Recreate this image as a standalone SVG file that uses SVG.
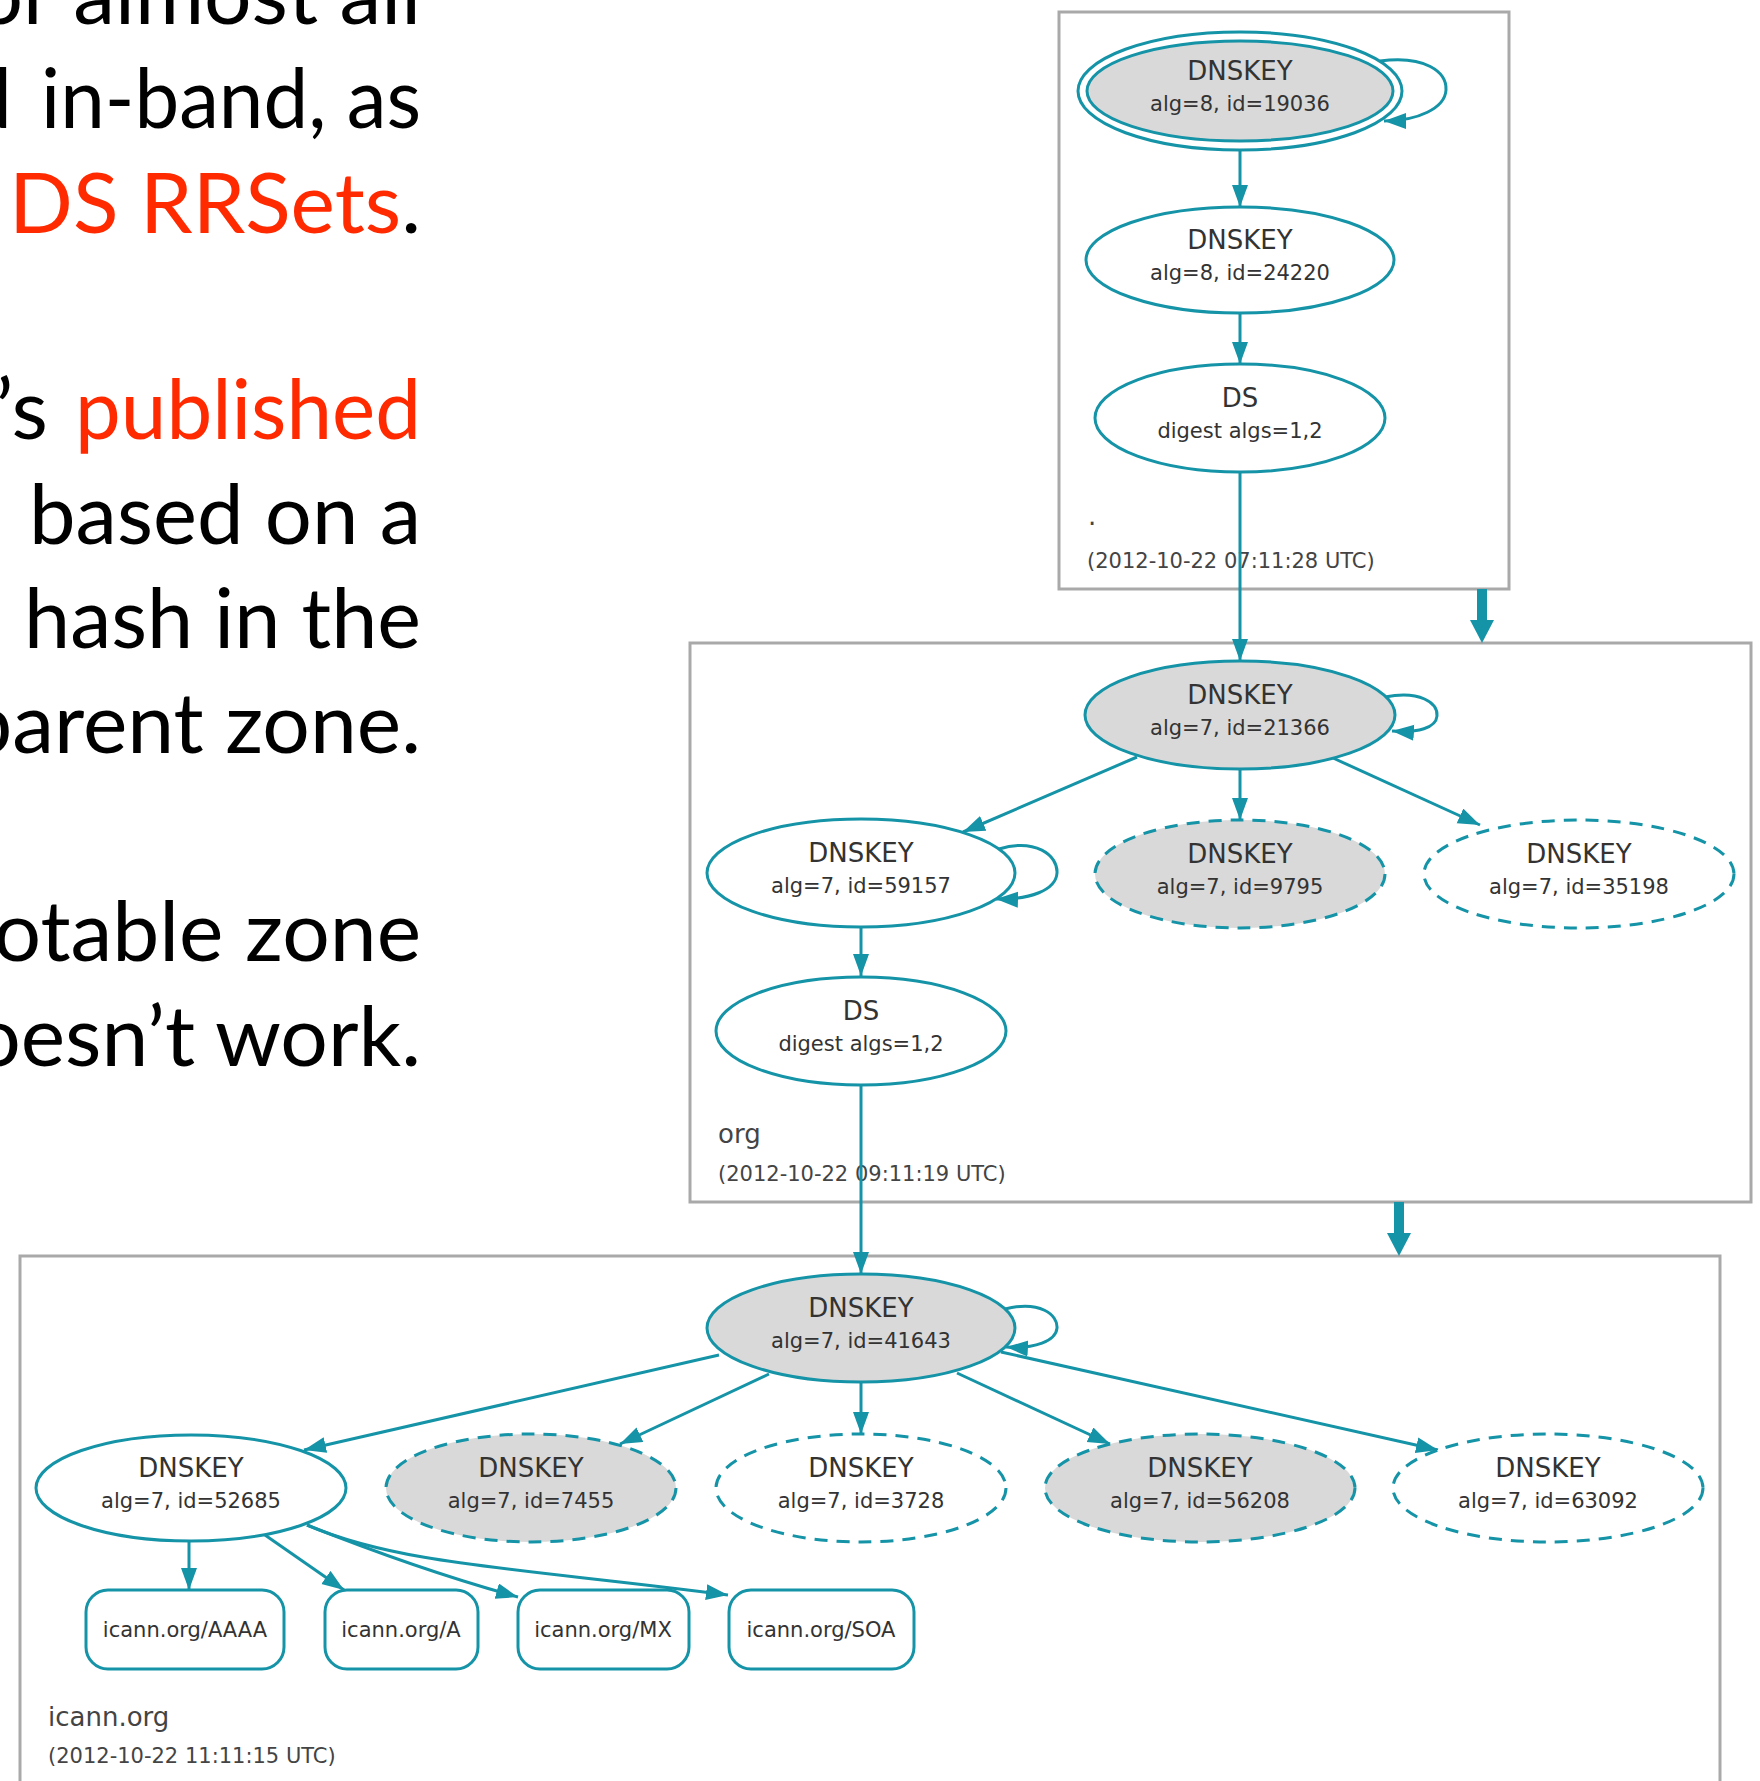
<svg xmlns="http://www.w3.org/2000/svg" width="1760" height="1781" viewBox="0 0 1760 1781">
<style>
.bt{font-family:"Lato","Liberation Sans",sans-serif;font-size:84px;fill:#000;text-anchor:end}
.red{fill:#ff2a00}
.zone{fill:none;stroke:#a9a9a9;stroke-width:3}
.n{fill:#fff;stroke:#1593a7;stroke-width:3}
.g{fill:#d9d9d9}
.d{stroke-dasharray:13 9}
.t1{font-family:"DejaVu Sans",sans-serif;font-size:26px;fill:#333;text-anchor:middle}
.t2{font-family:"DejaVu Sans",sans-serif;font-size:21px;fill:#333;text-anchor:middle}
.zl{font-family:"DejaVu Sans",sans-serif;font-size:26px;fill:#444}
.zd{font-family:"DejaVu Sans",sans-serif;font-size:21px;fill:#444}
.e{fill:none;stroke:#1593a7;stroke-width:3;marker-end:url(#ah)}
.thick{fill:none;stroke:#1593a7;stroke-width:10}
.th{fill:#1593a7}
</style>
<defs>
<marker id="ah" markerUnits="userSpaceOnUse" markerWidth="24" markerHeight="18" refX="22" refY="8" orient="auto">
<path d="M0,0 L22,8 L0,16 z" fill="#1593a7"/>
</marker>
</defs>
<rect width="1760" height="1781" fill="#fff"/>
<g id="bullet-text">
<text class="bt" x="421" y="24">or almost all</text>
<text class="bt" x="12" y="128">d</text>
<text class="bt" x="421" y="128" textLength="380" lengthAdjust="spacingAndGlyphs">in-band, as</text>
<text class="bt" x="421" y="233"><tspan class="red">DS RRSets</tspan>.</text>
<text class="bt" x="48" y="439">’s</text>
<text class="bt red" x="421" y="439" textLength="346" lengthAdjust="spacingAndGlyphs">published</text>
<text class="bt" x="421" y="544" textLength="392" lengthAdjust="spacingAndGlyphs">based on a</text>
<text class="bt" x="421" y="648" textLength="397" lengthAdjust="spacingAndGlyphs">hash in the</text>
<text class="bt" x="421" y="753">parent zone.</text>
<text class="bt" x="421" y="961">otable zone</text>
<text class="bt" x="421" y="1066">oesn’t work.</text>
</g>
<g id="zone-root">
<rect class="zone" x="1059" y="12" width="450" height="577"/>
<text class="zl" x="1088" y="525">.</text>
<text class="zd" x="1087" y="568">(2012-10-22 07:11:28 UTC)</text>
</g>
<g id="zone-org">
<rect class="zone" x="690" y="643" width="1061" height="559"/>
<text class="zl" x="718" y="1143">org</text>
<text class="zd" x="718" y="1181">(2012-10-22 09:11:19 UTC)</text>
</g>
<g id="zone-icann">
<rect class="zone" x="20" y="1256" width="1700" height="560"/>
<text class="zl" x="48" y="1726">icann.org</text>
<text class="zd" x="48" y="1763">(2012-10-22 11:11:15 UTC)</text>
</g>
<g id="connectors">
<path class="e" d="M1380,61 C1425,55 1447,72 1446,90 C1445,108 1418,121 1384,121"/>
<path class="e" d="M1240,150 L1240,207"/>
<path class="e" d="M1240,313 L1240,364"/>
<path class="e" d="M1240,472 L1240,661"/>
<path class="e" d="M1385,697 C1420,690 1438,703 1437,716 C1436,728 1418,733 1392,731"/>
<path class="e" d="M1137,757 L963,832"/>
<path class="e" d="M1240,769 L1240,820"/>
<path class="e" d="M1333,758 L1480,825"/>
<path class="e" d="M999,849 C1035,838 1058,855 1057,873 C1056,890 1030,900 996,899"/>
<path class="e" d="M861,928 L861,976"/>
<path class="e" d="M861,1086 L861,1274"/>
<path class="e" d="M1005,1309 C1040,1300 1058,1315 1057,1328 C1056,1341 1035,1349 1006,1347"/>
<path class="e" d="M719,1355 L304,1450"/>
<path class="e" d="M769,1374 L620,1444"/>
<path class="e" d="M861,1382 L861,1434"/>
<path class="e" d="M957,1373 L1110,1444"/>
<path class="e" d="M1001,1352 L1438,1450"/>
<path class="e" d="M189,1541 L189,1590"/>
<path class="e" d="M265,1535 L344,1590"/>
<path class="e" d="M307,1525 Q420,1570 518,1597"/>
<path class="e" d="M307,1525 C400,1565 520,1568 728,1595"/>
<path class="thick" d="M1482,589 L1482,622"/>
<polygon class="th" points="1470,620 1494,620 1482,643"/>
<path class="thick" d="M1399,1202 L1399,1235"/>
<polygon class="th" points="1387,1233 1411,1233 1399,1256"/>
</g>
<g id="dnskey-19036">
<ellipse class="n" cx="1240" cy="91" rx="162" ry="59"/>
<ellipse class="n g" cx="1240" cy="91" rx="153" ry="50"/>
<text class="t1" x="1240" y="80">DNSKEY</text>
<text class="t2" x="1240" y="111">alg=8, id=19036</text>
</g>
<g id="dnskey-24220">
<ellipse class="n" cx="1240" cy="260" rx="154" ry="53"/>
<text class="t1" x="1240" y="249">DNSKEY</text>
<text class="t2" x="1240" y="280">alg=8, id=24220</text>
</g>
<g id="ds-root">
<ellipse class="n" cx="1240" cy="418" rx="145" ry="54"/>
<text class="t1" x="1240" y="407">DS</text>
<text class="t2" x="1240" y="438">digest algs=1,2</text>
</g>
<g id="dnskey-21366">
<ellipse class="n g" cx="1240" cy="715" rx="155" ry="54"/>
<text class="t1" x="1240" y="704">DNSKEY</text>
<text class="t2" x="1240" y="735">alg=7, id=21366</text>
</g>
<g id="dnskey-59157">
<ellipse class="n" cx="861" cy="873" rx="154" ry="54"/>
<text class="t1" x="861" y="862">DNSKEY</text>
<text class="t2" x="861" y="893">alg=7, id=59157</text>
</g>
<g id="dnskey-9795">
<ellipse class="n g d" cx="1240" cy="874" rx="145" ry="54"/>
<text class="t1" x="1240" y="863">DNSKEY</text>
<text class="t2" x="1240" y="894">alg=7, id=9795</text>
</g>
<g id="dnskey-35198">
<ellipse class="n d" cx="1579" cy="874" rx="155" ry="54"/>
<text class="t1" x="1579" y="863">DNSKEY</text>
<text class="t2" x="1579" y="894">alg=7, id=35198</text>
</g>
<g id="ds-org">
<ellipse class="n" cx="861" cy="1031" rx="145" ry="54"/>
<text class="t1" x="861" y="1020">DS</text>
<text class="t2" x="861" y="1051">digest algs=1,2</text>
</g>
<g id="dnskey-41643">
<ellipse class="n g" cx="861" cy="1328" rx="154" ry="54"/>
<text class="t1" x="861" y="1317">DNSKEY</text>
<text class="t2" x="861" y="1348">alg=7, id=41643</text>
</g>
<g id="dnskey-52685">
<ellipse class="n" cx="191" cy="1488" rx="155" ry="53"/>
<text class="t1" x="191" y="1477">DNSKEY</text>
<text class="t2" x="191" y="1508">alg=7, id=52685</text>
</g>
<g id="dnskey-7455">
<ellipse class="n g d" cx="531" cy="1488" rx="145" ry="54"/>
<text class="t1" x="531" y="1477">DNSKEY</text>
<text class="t2" x="531" y="1508">alg=7, id=7455</text>
</g>
<g id="dnskey-3728">
<ellipse class="n d" cx="861" cy="1488" rx="145" ry="54"/>
<text class="t1" x="861" y="1477">DNSKEY</text>
<text class="t2" x="861" y="1508">alg=7, id=3728</text>
</g>
<g id="dnskey-56208">
<ellipse class="n g d" cx="1200" cy="1488" rx="155" ry="54"/>
<text class="t1" x="1200" y="1477">DNSKEY</text>
<text class="t2" x="1200" y="1508">alg=7, id=56208</text>
</g>
<g id="dnskey-63092">
<ellipse class="n d" cx="1548" cy="1488" rx="155" ry="54"/>
<text class="t1" x="1548" y="1477">DNSKEY</text>
<text class="t2" x="1548" y="1508">alg=7, id=63092</text>
</g>
<g id="rr-aaaa">
<rect class="n" x="86" y="1590" width="198" height="79" rx="22"/>
<text class="t2" x="185" y="1637">icann.org/AAAA</text>
</g>
<g id="rr-a">
<rect class="n" x="325" y="1590" width="153" height="79" rx="22"/>
<text class="t2" x="401" y="1637">icann.org/A</text>
</g>
<g id="rr-mx">
<rect class="n" x="518" y="1590" width="171" height="79" rx="22"/>
<text class="t2" x="603" y="1637">icann.org/MX</text>
</g>
<g id="rr-soa">
<rect class="n" x="729" y="1590" width="185" height="79" rx="22"/>
<text class="t2" x="821" y="1637">icann.org/SOA</text>
</g>
</svg>
